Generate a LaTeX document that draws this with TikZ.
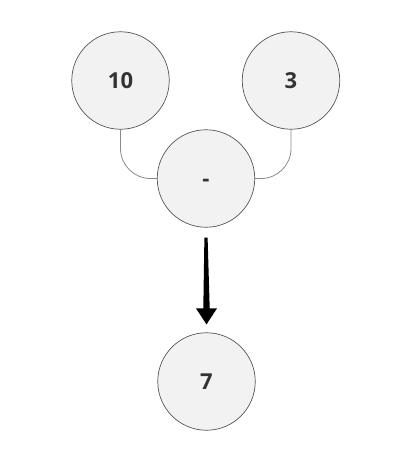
\documentclass[tikz,border=0pt]{standalone}
\usepackage{fontspec}
\setmainfont{Open Sans}
\definecolor{cfill}{HTML}{F2F2F2}
\definecolor{cline}{HTML}{555555}
\definecolor{ctext}{HTML}{333333}
\definecolor{cconn}{HTML}{8A8A8A}
\begin{document}
\begin{tikzpicture}[x=1pt,y=-1pt,
  numnode/.style={circle,draw=cline,fill=cfill,line width=0.7pt,minimum size=97.5pt,inner sep=0pt,
    font=\fontsize{22}{24}\selectfont\bfseries,text=ctext},
  conn/.style={draw=cconn,line width=0.8pt,rounded corners=30pt}]
\useasboundingbox (0,0) rectangle (400,450);
\node[numnode] (a) at (120.5,80.5) {10};
\node[numnode] (b) at (291,80.5) {3};
\node[numnode,text height=16pt,text depth=0pt] (m) at (206,178.5) {-};
\node[numnode] (r) at (206.5,381.5) {7};
\draw[conn] (a.south) |- (m.west);
\draw[conn] (b.south) |- (m.east);
\fill[black] ([yshift=-10pt,xshift=-1.6pt]m.south) -- ([yshift=-10pt,xshift=1.6pt]m.south)
  -- ([yshift=24pt,xshift=3.2pt]r.north) -- ([yshift=24pt,xshift=10.5pt]r.north)
  -- ([yshift=8pt]r.north) -- ([yshift=24pt,xshift=-10.5pt]r.north)
  -- ([yshift=24pt,xshift=-3.2pt]r.north) -- cycle;
\end{tikzpicture}
\end{document}
